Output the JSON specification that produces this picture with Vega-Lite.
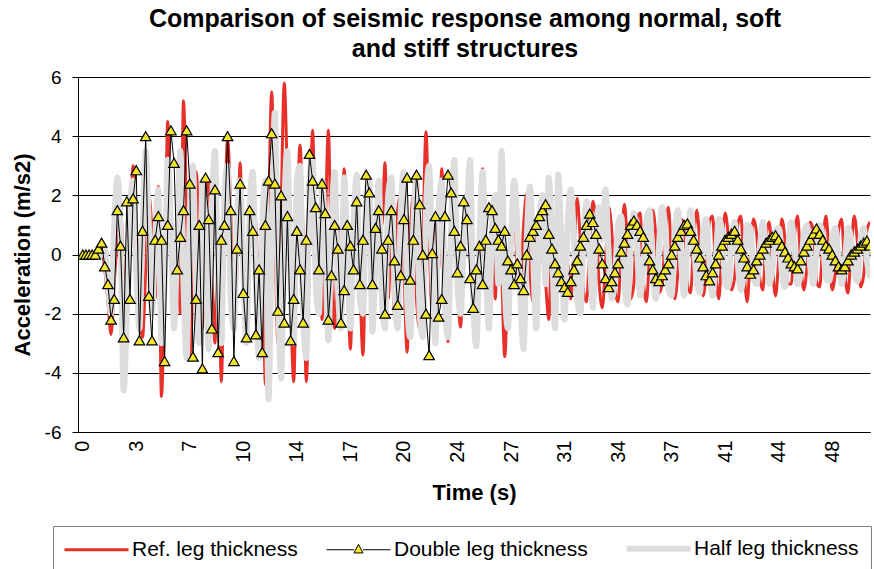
{
"$schema": "https://vega.github.io/schema/vega-lite/v6.json",
"width": 792, "height": 355,
"autosize": {"type": "none"},
"padding": {"left": 78, "top": 77, "right": 4, "bottom": 137},
"background": "white",
"title": {"text": ["Comparison of seismic response among normal, soft", "and stiff structures"], "anchor": "middle", "font": "Liberation Sans", "fontSize": 25, "fontWeight": "bold", "color": "#000", "lineHeight": 30, "offset": 6, "dx": -9},
"data": {"values": [
{"t":0,"r":0,"d":0,"h":0},{"t":0.2,"r":0,"d":0,"h":0},{"t":0.4,"r":0,"d":0,"h":0},{"t":0.6,"r":0,"d":0,"h":0},{"t":0.8,"r":0,"d":0,"h":0},
{"t":1,"r":0,"d":0.2,"h":0},{"t":1.2,"r":0.1,"d":0.4,"h":0},{"t":1.4,"r":-0.5,"d":-0.4,"h":0.2},{"t":1.6,"r":-1.6,"d":-1.0,"h":-1.0},{"t":1.8,"r":-2.7,"d":-2.2,"h":-2.0},
{"t":2,"r":-1.0,"d":-1.5,"h":1.0},{"t":2.2,"r":0.6,"d":1.5,"h":2.6},{"t":2.4,"r":1.6,"d":0.3,"h":0.8},{"t":2.6,"r":-0.8,"d":-2.8,"h":-4.6},{"t":2.8,"r":-2.2,"d":1.8,"h":-2.0},
{"t":3,"r":0.5,"d":-1.5,"h":1.5},{"t":3.2,"r":3.0,"d":1.9,"h":2.5},{"t":3.4,"r":1.0,"d":2.85,"h":-0.5},{"t":3.6,"r":-1.8,"d":-2.9,"h":-2.5},{"t":3.8,"r":-2.8,"d":0.8,"h":1.0},
{"t":4,"r":-0.5,"d":4.0,"h":3.5},{"t":4.2,"r":2.0,"d":-1.4,"h":1.0},{"t":4.4,"r":0.8,"d":-2.9,"h":-2.0},{"t":4.6,"r":-1.5,"d":0.5,"h":0.5},{"t":4.8,"r":2.3,"d":1.3,"h":2.2},
{"t":5,"r":-4.8,"d":0.5,"h":-3.0},{"t":5.2,"r":-1.2,"d":-3.6,"h":-1.0},{"t":5.4,"r":4.5,"d":1.0,"h":3.2},{"t":5.6,"r":0.5,"d":4.2,"h":1.0},{"t":5.8,"r":-2.5,"d":3.1,"h":-2.5},
{"t":6,"r":0.8,"d":-0.5,"h":0.5},{"t":6.2,"r":-2.0,"d":0.6,"h":3.5},{"t":6.4,"r":5.2,"d":1.5,"h":-1.0},{"t":6.6,"r":1.0,"d":4.2,"h":-3.5},{"t":6.8,"r":-3.4,"d":2.4,"h":1.5},
{"t":7,"r":-1.0,"d":-3.45,"h":3.0},{"t":7.2,"r":2.8,"d":-1.5,"h":-1.5},{"t":7.4,"r":0.5,"d":1.0,"h":-3.0},{"t":7.6,"r":-2.5,"d":-3.85,"h":2.5},{"t":7.8,"r":1.8,"d":2.6,"h":0.0},
{"t":8,"r":2.5,"d":1.2,"h":-3.2},{"t":8.2,"r":-0.5,"d":-2.5,"h":1.5},{"t":8.4,"r":-3.0,"d":2.2,"h":3.5},{"t":8.6,"r":1.0,"d":-3.3,"h":-1.0},{"t":8.8,"r":-4.3,"d":0.5,"h":-3.0},
{"t":9,"r":0.5,"d":1.0,"h":2.0},{"t":9.2,"r":3.9,"d":4.0,"h":3.0},{"t":9.4,"r":1.5,"d":1.5,"h":-1.5},{"t":9.6,"r":-2.5,"d":-3.6,"h":-2.5},{"t":9.8,"r":-0.5,"d":0.2,"h":1.2},
{"t":10,"r":3.1,"d":2.4,"h":2.5},{"t":10.2,"r":-1.5,"d":-1.3,"h":-0.5},{"t":10.4,"r":-2.8,"d":-2.8,"h":-3.0},{"t":10.6,"r":0.8,"d":1.5,"h":1.5},{"t":10.8,"r":2.0,"d":0.8,"h":2.8},
{"t":11,"r":1.0,"d":-2.7,"h":-1.0},{"t":11.2,"r":-1.5,"d":-0.5,"h":-3.5},{"t":11.4,"r":0.5,"d":-3.3,"h":1.0},{"t":11.6,"r":-4.4,"d":1.0,"h":2.5},{"t":11.8,"r":1.0,"d":2.5,"h":-4.9},
{"t":12,"r":5.5,"d":4.1,"h":0.5},{"t":12.2,"r":1.0,"d":2.4,"h":4.8},{"t":12.4,"r":-3.0,"d":-1.9,"h":-1.0},{"t":12.6,"r":1.5,"d":2.0,"h":-4.2},{"t":12.8,"r":5.8,"d":-2.3,"h":1.5},
{"t":13,"r":2.5,"d":1.3,"h":3.5},{"t":13.2,"r":-1.5,"d":-2.9,"h":-1.0},{"t":13.4,"r":-4.3,"d":-1.5,"h":-3.0},{"t":13.6,"r":0.5,"d":0.8,"h":2.5},{"t":13.8,"r":3.7,"d":-0.5,"h":3.0},
{"t":14,"r":0.5,"d":-2.3,"h":-2.0},{"t":14.2,"r":-4.3,"d":0.5,"h":-3.5},{"t":14.4,"r":0.0,"d":3.4,"h":2.5},{"t":14.6,"r":4.2,"d":2.5,"h":3.2},{"t":14.8,"r":0.5,"d":1.6,"h":-1.0},
{"t":15,"r":0.5,"d":-0.5,"h":-2.0},{"t":15.2,"r":-2.2,"d":2.4,"h":2.5},{"t":15.4,"r":0.8,"d":1.4,"h":0.5},{"t":15.6,"r":4.2,"d":-2.2,"h":-2.9},{"t":15.8,"r":-0.5,"d":-0.7,"h":1.0},
{"t":16,"r":-2.5,"d":1.0,"h":2.8},{"t":16.2,"r":1.0,"d":0.2,"h":-1.0},{"t":16.4,"r":-1.0,"d":-2.3,"h":-2.5},{"t":16.6,"r":2.9,"d":-1.2,"h":2.6},{"t":16.8,"r":0.0,"d":1.0,"h":0.0},
{"t":17,"r":-3.2,"d":0.3,"h":-2.5},{"t":17.2,"r":0.5,"d":-0.5,"h":1.0},{"t":17.4,"r":1.5,"d":1.8,"h":2.7},{"t":17.6,"r":-1.0,"d":-1.0,"h":-1.5},{"t":17.8,"r":-3.4,"d":0.5,"h":-2.0},
{"t":18,"r":1.0,"d":2.7,"h":2.0},{"t":18.2,"r":2.2,"d":2.1,"h":2.5},{"t":18.4,"r":-1.5,"d":-1.0,"h":-2.6},{"t":18.6,"r":-0.5,"d":0.9,"h":0.0},{"t":18.8,"r":1.5,"d":1.5,"h":2.5},
{"t":19,"r":1.0,"d":0.2,"h":-1.5},{"t":19.2,"r":3.1,"d":-2.0,"h":-2.5},{"t":19.4,"r":-1.5,"d":0.5,"h":2.0},{"t":19.6,"r":0.5,"d":1.5,"h":2.6},{"t":19.8,"r":-2.0,"d":-0.2,"h":-1.0},
{"t":20,"r":1.5,"d":-1.7,"h":-2.5},{"t":20.2,"r":2.0,"d":-0.7,"h":1.5},{"t":20.4,"r":-0.5,"d":1.2,"h":2.8},{"t":20.6,"r":-3.3,"d":2.6,"h":-1.5},{"t":20.8,"r":0.5,"d":-0.85,"h":-2.8},
{"t":21,"r":2.0,"d":0.5,"h":1.0},{"t":21.2,"r":-1.5,"d":2.7,"h":2.5},{"t":21.4,"r":-2.5,"d":1.7,"h":-2.0},{"t":21.6,"r":0.5,"d":0.0,"h":-2.8},{"t":21.8,"r":4.15,"d":-2.0,"h":1.5},
{"t":22,"r":0.5,"d":-3.4,"h":3.0},{"t":22.2,"r":-2.0,"d":0.05,"h":-0.5},{"t":22.4,"r":1.0,"d":1.3,"h":-3.0},{"t":22.6,"r":-0.5,"d":-2.1,"h":1.5},{"t":22.8,"r":2.9,"d":-1.5,"h":2.5},
{"t":23,"r":0.0,"d":1.3,"h":-1.5},{"t":23.2,"r":-2.95,"d":2.7,"h":-2.8},{"t":23.4,"r":0.5,"d":2.1,"h":1.0},{"t":23.6,"r":2.0,"d":0.8,"h":3.2},{"t":23.8,"r":-1.0,"d":-0.6,"h":-1.0},
{"t":24,"r":-2.45,"d":0.3,"h":-2.0},{"t":24.2,"r":0.5,"d":1.8,"h":0.5},{"t":24.4,"r":1.0,"d":1.2,"h":1.5},{"t":24.6,"r":3.2,"d":-0.8,"h":3.2},{"t":24.8,"r":-1.0,"d":-1.8,"h":-1.5},
{"t":25,"r":-2.0,"d":-0.5,"h":-3.1},{"t":25.2,"r":1.0,"d":0.3,"h":0.5},{"t":25.4,"r":2.9,"d":-1.0,"h":2.8},{"t":25.6,"r":-0.5,"d":0.5,"h":-0.5},{"t":25.8,"r":-1.5,"d":1.6,"h":-2.5},
{"t":26,"r":1.0,"d":1.5,"h":1.0},{"t":26.2,"r":-1.5,"d":0.9,"h":2.0},{"t":26.4,"r":1.5,"d":0.5,"h":-1.0},{"t":26.6,"r":-0.5,"d":0.3,"h":3.5},{"t":26.8,"r":-3.45,"d":0.8,"h":-1.0},
{"t":27,"r":-1.0,"d":-0.2,"h":-2.5},{"t":27.2,"r":1.0,"d":-0.5,"h":0.5},{"t":27.4,"r":2.0,"d":-1.0,"h":2.5},{"t":27.6,"r":-0.5,"d":-0.3,"h":1.0},{"t":27.8,"r":-1.0,"d":-0.8,"h":-1.5},
{"t":28,"r":1.0,"d":-1.2,"h":-3.2},{"t":28.2,"r":2.05,"d":0.0,"h":0.5},{"t":28.4,"r":-0.5,"d":0.6,"h":2.3},{"t":28.6,"r":-1.6,"d":0.8,"h":0.0},{"t":28.8,"r":0.5,"d":1.0,"h":-2.5},
{"t":29,"r":1.5,"d":1.3,"h":1.0},{"t":29.2,"r":0.0,"d":1.5,"h":2.0},{"t":29.4,"r":-1.0,"d":1.7,"h":-1.0},{"t":29.6,"r":-2.2,"d":0.7,"h":2.6},{"t":29.8,"r":0.5,"d":0.2,"h":0.5},
{"t":30,"r":0.5,"d":-0.3,"h":-2.5},{"t":30.2,"r":1.8,"d":-0.6,"h":2.7},{"t":30.4,"r":0.0,"d":-0.9,"h":0.5},{"t":30.6,"r":-1.7,"d":-1.1,"h":-2.2},{"t":30.8,"r":-0.3,"d":-1.26,"h":1.0},
{"t":31,"r":-1.5,"d":-0.9,"h":2.2},{"t":31.2,"r":0.2,"d":-0.5,"h":0.5},{"t":31.4,"r":1.9,"d":-0.2,"h":-1.5},{"t":31.6,"r":0.5,"d":0.3,"h":-2.0},{"t":31.8,"r":-1.2,"d":0.6,"h":0.5},
{"t":32,"r":-1.6,"d":1.0,"h":1.8},{"t":32.2,"r":0.3,"d":1.38,"h":0.0},{"t":32.4,"r":1.8,"d":1.1,"h":-1.8},{"t":32.6,"r":1.0,"d":0.7,"h":1.0},{"t":32.8,"r":-1.0,"d":0.2,"h":1.6},
{"t":33,"r":-1.8,"d":-0.3,"h":0.5},{"t":33.2,"r":-0.3,"d":-0.8,"h":2.2},{"t":33.4,"r":1.6,"d":-1.1,"h":0.0},{"t":33.6,"r":0.8,"d":-0.9,"h":-1.5},{"t":33.8,"r":-1.2,"d":-0.6,"h":-0.8},
{"t":34,"r":-1.6,"d":-0.3,"h":1.0},{"t":34.2,"r":0.2,"d":0.1,"h":1.3},{"t":34.4,"r":1.7,"d":0.4,"h":-1.0},{"t":34.6,"r":0.3,"d":0.7,"h":-1.7},{"t":34.8,"r":-1.5,"d":1.0,"h":0.5},
{"t":35,"r":-1.0,"d":1.15,"h":1.4},{"t":35.2,"r":1.2,"d":1.0,"h":0.2},{"t":35.4,"r":1.4,"d":0.8,"h":-1.4},{"t":35.6,"r":-0.8,"d":0.6,"h":-0.5},{"t":35.8,"r":-1.6,"d":0.2,"h":1.2},
{"t":36,"r":0.0,"d":-0.2,"h":1.5},{"t":36.2,"r":1.5,"d":-0.5,"h":-0.5},{"t":36.4,"r":0.6,"d":-0.8,"h":-1.5},{"t":36.6,"r":-1.3,"d":-0.9,"h":0.3},{"t":36.8,"r":-1.0,"d":-0.7,"h":1.6},
{"t":37,"r":0.8,"d":-0.5,"h":0.8},{"t":37.2,"r":1.6,"d":-0.3,"h":-1.2},{"t":37.4,"r":-0.2,"d":0.0,"h":-1.4},{"t":37.6,"r":-1.5,"d":0.3,"h":0.8},{"t":37.8,"r":-0.6,"d":0.6,"h":1.5},
{"t":38,"r":1.2,"d":0.8,"h":-0.2},{"t":38.2,"r":1.0,"d":1.0,"h":-1.4},{"t":38.4,"r":-1.0,"d":1.05,"h":0.2},{"t":38.6,"r":-1.3,"d":0.8,"h":1.5},{"t":38.8,"r":0.4,"d":0.5,"h":0.6},
{"t":39,"r":1.5,"d":0.2,"h":-1.0},{"t":39.2,"r":0.3,"d":-0.1,"h":-1.3},{"t":39.4,"r":-1.4,"d":-0.4,"h":0.8},{"t":39.6,"r":-0.6,"d":-0.7,"h":1.2},{"t":39.8,"r":1.1,"d":-0.87,"h":-0.3},
{"t":40,"r":1.3,"d":-0.6,"h":-1.4},{"t":40.2,"r":-0.6,"d":-0.3,"h":-0.2},{"t":40.4,"r":-1.5,"d":0.0,"h":1.2},{"t":40.6,"r":0.2,"d":0.3,"h":0.8},{"t":40.8,"r":1.4,"d":0.5,"h":-1.0},
{"t":41,"r":0.6,"d":0.6,"h":-1.1},{"t":41.2,"r":-1.2,"d":0.7,"h":0.6},{"t":41.4,"r":-0.8,"d":0.8,"h":1.1},{"t":41.6,"r":1.0,"d":0.5,"h":-0.3},{"t":41.8,"r":1.3,"d":0.2,"h":-1.2},
{"t":42,"r":-0.5,"d":-0.1,"h":-0.5},{"t":42.2,"r":-1.6,"d":-0.4,"h":1.0},{"t":42.4,"r":0.0,"d":-0.65,"h":0.9},{"t":42.6,"r":1.2,"d":-0.5,"h":-0.8},{"t":42.8,"r":0.7,"d":-0.2,"h":-1.0},
{"t":43,"r":-0.8,"d":0.0,"h":0.2},{"t":43.2,"r":-1.2,"d":0.2,"h":1.1},{"t":43.4,"r":0.6,"d":0.4,"h":0.2},{"t":43.6,"r":1.1,"d":0.5,"h":-1.0},{"t":43.8,"r":-0.4,"d":0.6,"h":-0.5},
{"t":44,"r":-1.4,"d":0.65,"h":0.8},{"t":44.2,"r":-0.2,"d":0.5,"h":0.9},{"t":44.4,"r":1.2,"d":0.3,"h":-0.6},{"t":44.6,"r":0.5,"d":0.1,"h":-1.1},{"t":44.8,"r":-1.0,"d":-0.1,"h":0.2},
{"t":45,"r":-1.0,"d":-0.3,"h":1.1},{"t":45.2,"r":0.6,"d":-0.4,"h":0.3},{"t":45.4,"r":1.3,"d":-0.47,"h":-1.0},{"t":45.6,"r":-0.3,"d":-0.2,"h":-0.6},{"t":45.8,"r":-1.2,"d":0.1,"h":0.7},
{"t":46,"r":-0.4,"d":0.3,"h":1.0},{"t":46.2,"r":1.1,"d":0.5,"h":-0.4},{"t":46.4,"r":0.8,"d":0.7,"h":-1.0},{"t":46.6,"r":-0.9,"d":0.88,"h":0.1},{"t":46.8,"r":-1.1,"d":0.7,"h":1.0},
{"t":47,"r":0.3,"d":0.5,"h":0.6},{"t":47.2,"r":1.3,"d":0.3,"h":-0.8},{"t":47.4,"r":0.1,"d":0.2,"h":-0.9},{"t":47.6,"r":-1.2,"d":0.0,"h":0.6},{"t":47.8,"r":-0.6,"d":-0.2,"h":0.9},
{"t":48,"r":0.8,"d":-0.4,"h":-0.1},{"t":48.2,"r":1.2,"d":-0.5,"h":-1.0},{"t":48.4,"r":-0.6,"d":-0.4,"h":-0.3},{"t":48.6,"r":-1.3,"d":-0.2,"h":0.9},{"t":48.8,"r":0.1,"d":0.0,"h":0.5},
{"t":49,"r":1.3,"d":0.1,"h":-0.7},{"t":49.2,"r":0.4,"d":0.2,"h":-0.9},{"t":49.4,"r":-1.1,"d":0.3,"h":0.5},{"t":49.6,"r":-0.7,"d":0.4,"h":0.9},{"t":49.8,"r":0.8,"d":0.47,"h":-0.2},
{"t":50,"r":1.1,"d":0.3,"h":-0.8}
]},
"transform": [{"fold": ["r", "d", "h"], "as": ["s", "v"]}],
"encoding": {
  "x": {"field": "t", "type": "quantitative", "title": "Time (s)",
        "scale": {"domain": [-0.3, 50], "nice": false, "zero": false},
        "axis": {"values": [0, 3.4, 6.8, 10.2, 13.6, 17, 20.4, 23.8, 27.2, 30.6, 34, 37.4, 40.8, 44.2, 47.6], "format": ".0f", "labelAngle": -90, "ticks": false, "grid": false, "labelPadding": 8, "titlePadding": 20, "labelFontSize": 20}},
  "y": {"field": "v", "type": "quantitative", "title": "Acceleration (m/s2)",
        "scale": {"domain": [-6, 6], "nice": false},
        "axis": {"values": [-6, -4, -2, 0, 2, 4, 6], "labelExpr": "datum.value < 0 ? '-' + abs(datum.value) : '' + datum.value", "grid": true, "gridColor": "#000", "gridWidth": 1, "tickSize": 6, "labelPadding": 11, "titlePadding": 10, "labelFontSize": 19}}
},
"layer": [
  {"transform": [{"filter": "datum.s === 'r'"}],
   "mark": {"type": "tick", "orient": "vertical", "size": 6, "thickness": 1, "color": "#666"},
   "encoding": {"y": {"datum": 0}}},
  {"transform": [{"filter": "datum.s === 'r'"}],
   "mark": {"type": "line", "strokeWidth": 3, "interpolate": "monotone", "clip": true},
   "encoding": {"color": {"datum": "Ref. leg thickness", "type": "nominal",
      "scale": {"domain": ["Ref. leg thickness", "Double leg thickness", "Half leg thickness"], "range": ["#E8302A", "#000000", "#DDDDDD"]},
      "legend": {"orient": "none", "legendX": -25, "legendY": 449, "direction": "horizontal", "columns": 3, "title": null,
        "symbolType": "stroke", "symbolSize": 4096, "symbolStrokeWidth": 3, "symbolOffset": 21,
        "labelFont": "Liberation Sans", "labelFontSize": 21, "labelColor": "#000", "labelOffset": 25, "labelLimit": 300,
        "columnPadding": 26, "padding": 12, "strokeColor": "#808080", "fillColor": "#ffffff",
        "encode": {"symbols": {"update": {
          "shape": {"signal": "datum.value === 'Double leg thickness' ? 'M-1,0H-0.14M0.14,0H1M0,-0.17L0.14,0.1L-0.14,0.1Z' : 'stroke'"},
          "strokeWidth": {"signal": "datum.value === 'Half leg thickness' ? 6 : (datum.value === 'Ref. leg thickness' ? 3 : 1)"},
          "fill": {"signal": "datum.value === 'Double leg thickness' ? '#F2E52B' : 'transparent'"},
          "stroke": {"signal": "datum.value === 'Half leg thickness' ? '#DDDDDD' : (datum.value === 'Ref. leg thickness' ? '#E8302A' : '#000000')"},
          "opacity": {"value": 1}}}}}}}},
  {"transform": [{"filter": "datum.s === 'h'"}],
   "mark": {"type": "line", "strokeWidth": 6, "interpolate": "monotone", "clip": true},
   "encoding": {"color": {"datum": "Half leg thickness", "type": "nominal"}}},
  {"transform": [{"filter": "datum.s === 'd'"}],
   "mark": {"type": "line", "strokeWidth": 1, "clip": true},
   "encoding": {"color": {"datum": "Double leg thickness", "type": "nominal"}}},
  {"transform": [{"filter": "datum.s === 'd'"}],
   "mark": {"type": "point", "shape": "triangle-up", "filled": true, "fill": "#F2E52B", "stroke": "#000", "strokeWidth": 1.2, "size": 110, "opacity": 1, "clip": true}}
],
"config": {
  "view": {"stroke": null},
  "font": "Liberation Sans",
  "axis": {"labelFont": "Liberation Sans", "titleFont": "Liberation Sans", "labelColor": "#000", "titleColor": "#000", "domainColor": "#000", "tickColor": "#000", "labelFontSize": 17, "titleFontSize": 22, "titleFontWeight": "bold"}
}
}
